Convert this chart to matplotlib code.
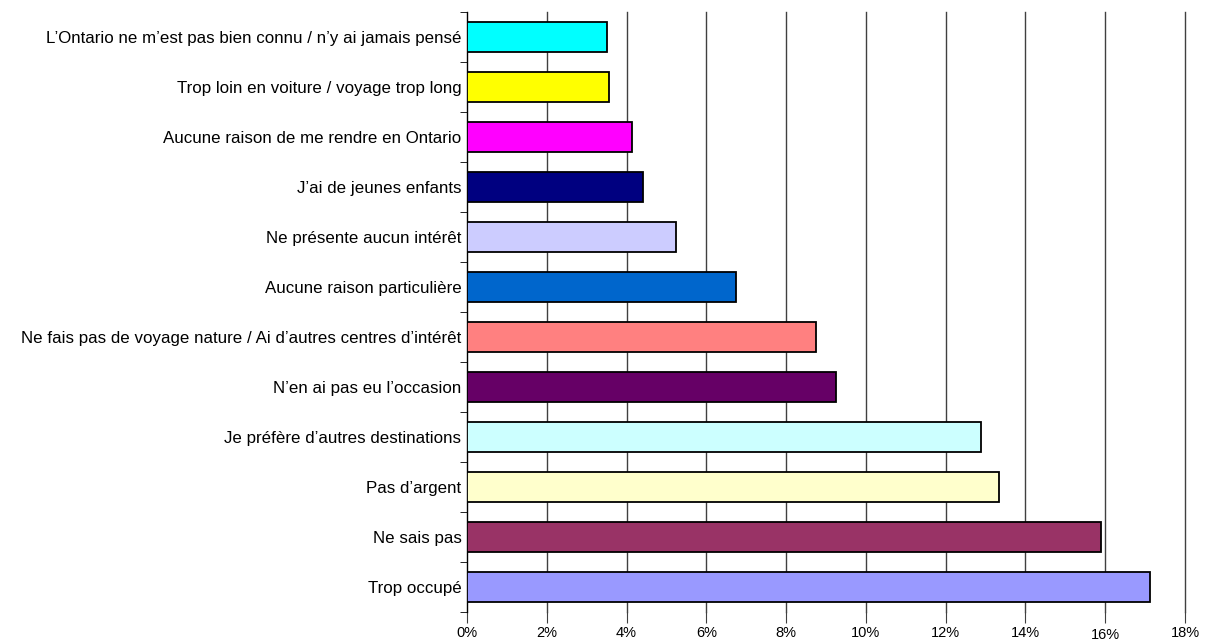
import numpy as np
import matplotlib
matplotlib.use('Agg')
import matplotlib.pyplot as plt

plt.rcParams['font.family'] = ['Liberation Sans', 'DejaVu Sans']

# bottom to top
labels = ['Trop occupé', 'Ne sais pas', "Pas d’argent", 'Je préfère d’autres destinations',
          'N’en ai pas eu l’occasion',
          'Ne fais pas de voyage nature / Ai d’autres centres d’intérêt',
          'Aucune raison particulière', 'Ne présente aucun intérêt', 'J’ai de jeunes enfants',
          'Aucune raison de me rendre en Ontario', 'Trop loin en voiture / voyage trop long',
          'L’Ontario ne m’est pas bien connu / n’y ai jamais pensé']
values = [17.12, 15.89, 13.33, 12.88, 9.25, 8.75, 6.74, 5.24, 4.41, 4.14, 3.56, 3.51]
colors = ['#9999FF', '#993366', '#FFFFCC', '#CCFFFF', '#660066', '#FF8080',
          '#0066CC', '#CCCCFF', '#000080', '#FF00FF', '#FFFF00', '#00FFFF']
xticks = [0, 2, 4, 6, 8, 10, 12, 14, 16, 18]

fig = plt.figure(figsize=(12.09, 6.40), dpi=100)
ax = fig.add_axes([0.3863, 0.04375, 0.5938, 0.9375])

y = np.arange(len(labels))
ax.barh(y, values, height=0.6, color=colors, edgecolor='black', linewidth=1.3, zorder=3)

ax.set_xlim(0, 18)
ax.set_ylim(-0.5, len(labels) - 0.5)
ax.set_xticks(xticks)
ax.set_xticklabels(['%d%%' % t for t in xticks], fontsize=10.5)
ax.tick_params(axis='x', length=8, color='#404040', pad=2)
for lab in ax.get_xticklabels():
    if lab.get_text() == '16%':
        lab.set_y(-0.004)
ax.grid(axis='x', color='#404040', linewidth=1, zorder=0)
for gl in ax.get_xgridlines():
    gl.set_clip_on(False)

ax.set_yticks(y)
ax.set_yticklabels(labels, fontsize=12.2)
ax.tick_params(axis='y', length=0, pad=4)
ax.set_yticks(np.arange(-0.5, len(labels), 1), minor=True)
ax.tick_params(axis='y', which='minor', length=5, color='black')

for s in ['top', 'right', 'bottom']:
    ax.spines[s].set_visible(False)
ax.spines['left'].set_color('black')

fig.savefig('out.png', dpi=100)
